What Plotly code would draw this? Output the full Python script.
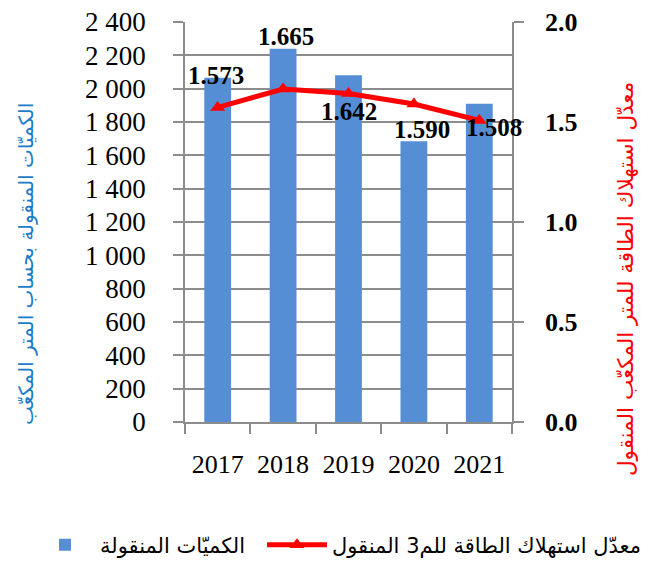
import plotly.graph_objects as go

years = ["2017", "2018", "2019", "2020", "2021"]
quantities = [2065, 2240, 2080, 1685, 1910]
energy_rate = [1.573, 1.665, 1.642, 1.590, 1.508]
energy_labels = ["1.573", "1.665", "1.642", "1.590", "1.508"]

bar_name = "الكميّات المنقولة"
line_name = "معدّل استهلاك الطاقة للم3 المنقول"
left_title = "الكميّات المنقولة بحساب المتر المكعّب"
right_title = "معدّل استهلاك الطاقة للمتر المكعّب المنقول"

W, H = 647, 565
ML, MR, MT, MB = 185, 135, 22, 143
PW = W - ML - MR
PH = H - MT - MB

def px_x(p):
    return (p - ML) / PW

def px_y(p):
    return (H - MB - p) / PH

SERIF = "Liberation Serif"
ARABIC = "DejaVu Sans"
GRID = "#8c8c8c"

fig = go.Figure()
fig.add_trace(go.Bar(
    x=years, y=quantities, name=bar_name, legend="legend",
    marker=dict(color="#558ED5", line=dict(width=0)),
))
fig.add_trace(go.Scatter(
    x=years, y=energy_rate, name=line_name, yaxis="y2", legend="legend2",
    mode="lines+markers",
    line=dict(color="#FF0000", width=5),
    marker=dict(symbol="triangle-up", size=13, color="#FF0000"),
))

# data labels (offsets copied from the reference's manual label placement)
xshifts = [-2, 3, 0, 8, 15]
yshifts = [32, 53, -18, -25, -7]
for i, (v, lab, dx, dy) in enumerate(zip(energy_rate, energy_labels, xshifts, yshifts)):
    fig.add_annotation(x=i, y=v, xref="x", yref="y2", text=lab, showarrow=False,
                       xshift=dx, yshift=dy,
                       font=dict(family=SERIF, size=25, color="black", weight="bold"))

fig.add_annotation(x=px_x(26), y=px_y(264), xref="paper", yref="paper",
                   xanchor="center", yanchor="middle",
                   text=left_title, textangle=-90, showarrow=False,
                   font=dict(family=ARABIC, size=20, color="#1C7CC8"))
fig.add_annotation(x=px_x(625), y=px_y(279), xref="paper", yref="paper",
                   xanchor="center", yanchor="middle",
                   text=right_title, textangle=-90, showarrow=False,
                   font=dict(family=ARABIC, size=21.5, color="#FF0000"))

legend_common = dict(
    orientation="h", xanchor="left", yanchor="middle",
    font=dict(family=ARABIC, size=21, color="black"),
    bgcolor="rgba(0,0,0,0)", itemwidth=60,
)

fig.update_layout(
    width=W, height=H,
    margin=dict(l=ML, r=MR, t=MT, b=MB, pad=0, autoexpand=False),
    paper_bgcolor="white", plot_bgcolor="white",
    separators=". ",
    bargap=0.59,
    font=dict(family=SERIF, size=26, color="black"),
    xaxis=dict(
        type="category", categoryorder="array", categoryarray=years,
        range=[-0.5, len(years) - 0.5], autorange=False,
        showline=True, linecolor=GRID, linewidth=1.5,
        ticks="outside", tickson="boundaries", ticklen=10, tickcolor=GRID, tickwidth=1.5,
        tickfont=dict(family=SERIF, size=26, color="black"),
        tickangle=0, showgrid=False, ticklabelstandoff=18,
    ),
    yaxis=dict(
        range=[0, 2400], dtick=200, tickformat=",d",
        showline=True, linecolor=GRID, linewidth=1.5,
        showgrid=True, gridcolor=GRID, gridwidth=1.5,
        ticks="outside", ticklen=10, tickcolor=GRID, tickwidth=1.5,
        tickfont=dict(family=SERIF, size=27, color="black"),
        ticklabelstandoff=22, zeroline=False,
    ),
    yaxis2=dict(
        range=[0, 2], dtick=0.5, tickformat=".1f", overlaying="y", side="right",
        showline=True, linecolor=GRID, linewidth=1.5, showgrid=False,
        ticks="outside", ticklen=10, tickcolor=GRID, tickwidth=1.5,
        tickfont=dict(family=SERIF, size=26, color="black", weight="bold"),
        ticklabelstandoff=16, zeroline=False,
    ),
    showlegend=True,
    legend=dict(x=px_x(30), y=px_y(545), **legend_common),
    legend2=dict(x=px_x(262), y=px_y(545), **legend_common),
)

fig.write_html("out.html")
